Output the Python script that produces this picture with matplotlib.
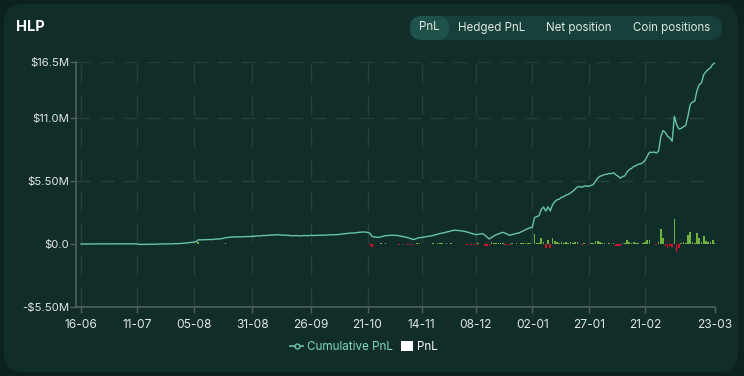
import numpy as np
import pandas as pd
import matplotlib
matplotlib.use("Agg")
import matplotlib.pyplot as plt
from matplotlib.patches import FancyBboxPatch, Patch
from matplotlib.lines import Line2D

plt.rcParams['font.family'] = ['Inter', 'DejaVu Sans']

# ------------------------------------------------------------------
# Cumulative PnL of HLP, in $M, one value per day from 16-06-2023
jun = [0.00, 0.00, 0.01, 0.00, 0.01, 0.01, 0.00, 0.01, 0.01, 0.02, 0.01, 0.01, 0.02, 0.01, 0.01]
jul = [0.02, 0.01, 0.02, 0.02, 0.01, 0.02, 0.01, 0.02, 0.02, 0.01, 0.01, -0.04, -0.03, -0.02, -0.03, -0.02,
       -0.01, -0.02, -0.01, 0.00, 0.00, 0.01, 0.00, 0.01, 0.02, 0.01, 0.03, 0.04, 0.03, 0.05, 0.06]
aug = [0.08, 0.10, 0.12, 0.15, 0.17, 0.20, 0.37, 0.36, 0.38, 0.37, 0.39, 0.40, 0.39, 0.41, 0.44, 0.43,
       0.46, 0.50, 0.55, 0.57, 0.60, 0.62, 0.61, 0.63, 0.62, 0.64, 0.63, 0.65, 0.66, 0.65, 0.67]
sep = [0.68, 0.71, 0.70, 0.73, 0.75, 0.74, 0.77, 0.79, 0.78, 0.80, 0.82, 0.80, 0.79, 0.76, 0.77,
       0.75, 0.74, 0.72, 0.74, 0.73, 0.71, 0.73, 0.75, 0.73, 0.74, 0.76, 0.74, 0.75, 0.77, 0.76]
oct_ = [0.78, 0.77, 0.79, 0.81, 0.80, 0.82, 0.81, 0.84, 0.85, 0.89, 0.90, 0.93, 0.94, 0.97, 0.96, 0.99,
        1.02, 1.03, 1.06, 1.04, 1.02, 0.95, 0.65, 0.63, 0.59, 0.58, 0.64, 0.68, 0.74, 0.73, 0.76]
nov = [0.78, 0.75, 0.76, 0.71, 0.69, 0.63, 0.61, 0.54, 0.49, 0.40, 0.43, 0.50, 0.56, 0.57, 0.61,
       0.64, 0.68, 0.70, 0.75, 0.79, 0.85, 0.90, 0.96, 0.98, 1.05, 1.09, 1.15, 1.19, 1.21, 1.18]
dec = [1.17, 1.13, 1.11, 1.05, 1.01, 0.93, 0.88, 0.81, 0.86, 0.87, 0.91, 0.78, 0.60, 0.44, 0.59, 0.71,
       0.82, 0.87, 0.96, 1.02, 0.95, 0.86, 0.76, 0.83, 0.87, 0.93, 0.96, 1.06, 1.14, 1.26, 1.34]
jan = [1.42, 1.45, 2.30, 2.40, 2.47, 3.02, 3.23, 2.88, 3.25, 2.90, 3.43, 3.70, 3.87, 3.92, 4.08, 4.14,
       4.28, 4.33, 4.47, 4.60, 4.80, 4.98, 5.02, 4.96, 5.05, 5.08, 5.03, 5.12, 5.18, 5.48, 5.76]
feb = [5.92, 5.97, 6.07, 6.09, 6.16, 6.15, 6.22, 6.06, 5.93, 5.76, 5.88, 5.96, 6.28, 6.50, 6.60,
       6.78, 6.84, 6.97, 7.00, 7.11, 7.30, 7.69, 8.02, 8.00, 8.04, 7.95, 8.12, 9.40, 9.91]
mar = [9.75, 9.40, 9.27, 8.98, 11.16, 10.43, 10.05, 10.10, 10.25, 10.35, 11.16, 12.18,
       12.40, 12.47, 13.40, 13.92, 14.07, 14.80, 15.05, 15.25, 15.39, 15.70, 15.82]

cum_pnl = np.array(jun + jul + aug + sep + oct_ + nov + dec + jan + feb + mar)
daily_pnl = np.diff(cum_pnl, prepend=0.0)
dates = pd.date_range('2023-06-16', periods=len(cum_pnl), freq='D')

tick_days = [0, 25, 50, 76, 102, 127, 151, 175, 200, 225, 250, 281]
y_ticks = [-5.5, 0.0, 5.5, 11.0, 15.9]
y_labels = ['-$5.50M', '$0.0', '$5.50M', '$11.0M', '$16.5M']
buttons = ['PnL', 'Hedged PnL', 'Net position', 'Coin positions']

# ------------------------------------------------------------------
W, H = 744, 376
outer = '#0b221f'
card = '#112d29'
txt = '#dfe7e5'
teal = '#68c3aa'
green = '#6fb33e'
red = '#d2122e'

fig = plt.figure(figsize=(W / 100, H / 100), dpi=100, facecolor=outer)
fig.add_artist(FancyBboxPatch((4 / W, 4 / H), 734 / W, 368 / H,
                              boxstyle='round,pad=0,rounding_size=0.025',
                              transform=fig.transFigure, facecolor=card, edgecolor='none',
                              mutation_aspect=W / H, zorder=-10))

fig.text(16 / W, 1 - 27 / H, 'HLP', color='white', fontsize=10.5, fontweight='bold', va='center')

# button group
fig.add_artist(FancyBboxPatch((410 / W, 1 - 40 / H), 312 / W, 24 / H,
                              boxstyle='round,pad=0,rounding_size=0.016',
                              transform=fig.transFigure, facecolor='#17403a', edgecolor='none',
                              mutation_aspect=W / H, zorder=-9))
fig.add_artist(FancyBboxPatch((410 / W, 1 - 40 / H), 39 / W, 24 / H,
                              boxstyle='round,pad=0,rounding_size=0.016',
                              transform=fig.transFigure, facecolor='#1f5249', edgecolor='none',
                              mutation_aspect=W / H, zorder=-8))
for lab, cx in zip(buttons, [429, 491.5, 578.5, 671.5]):
    fig.text(cx / W, 1 - 27.5 / H, lab, color=txt, fontsize=8.3, ha='center', va='center')

ax = fig.add_axes([76 / W, 69 / H, 639 / W, 245 / H])
ax.set_facecolor('none')

x = np.arange(len(cum_pnl))
ax.bar(x, daily_pnl, width=0.75, color=[green if v >= 0 else red for v in daily_pnl], zorder=2)
ax.plot(x, cum_pnl, color=teal, linewidth=1.0, zorder=3)

ax.set_xlim(-2.2, 281)
ax.set_ylim(-5.5, 15.9)
ax.set_xticks(tick_days)
ax.set_xticklabels([dates[d].strftime('%d-%m') for d in tick_days])
ax.set_yticks(y_ticks)
ax.set_yticklabels(y_labels)

grid_c = '#21423b'
for d in tick_days:
    ax.axvline(d, color=grid_c, linewidth=1, linestyle=(0, (14, 9)), zorder=1)
for yv in y_ticks[2:]:
    ax.axhline(yv, color=grid_c, linewidth=1, linestyle=(0, (10, 7)), zorder=1)

for s in ['top', 'right']:
    ax.spines[s].set_visible(False)
for s in ['left', 'bottom']:
    ax.spines[s].set_color('#4f5f5c')
    ax.spines[s].set_linewidth(1.2)
ax.tick_params(axis='both', colors='#4f5f5c', length=4, width=1, labelsize=8.2, labelcolor=txt)
ax.tick_params(axis='x', pad=5, labelsize=8.6)
ax.tick_params(axis='y', pad=1)

handles = [Line2D([], [], color=teal, marker='o', markersize=3.5, markerfacecolor=card,
                  markeredgecolor=teal, linewidth=1.2),
           Patch(facecolor='white', edgecolor='none')]
leg = fig.legend(handles, ['Cumulative PnL', 'PnL'], loc='center', bbox_to_anchor=(364 / W, 1 - 347 / H),
                 ncol=2, frameon=False, fontsize=8.4, handlelength=1.1, handleheight=0.9,
                 handletextpad=0.3, columnspacing=0.7)
leg.get_texts()[0].set_color('#7fd9bf')
leg.get_texts()[1].set_color('white')

fig.savefig('out.png', dpi=100, facecolor=outer)
